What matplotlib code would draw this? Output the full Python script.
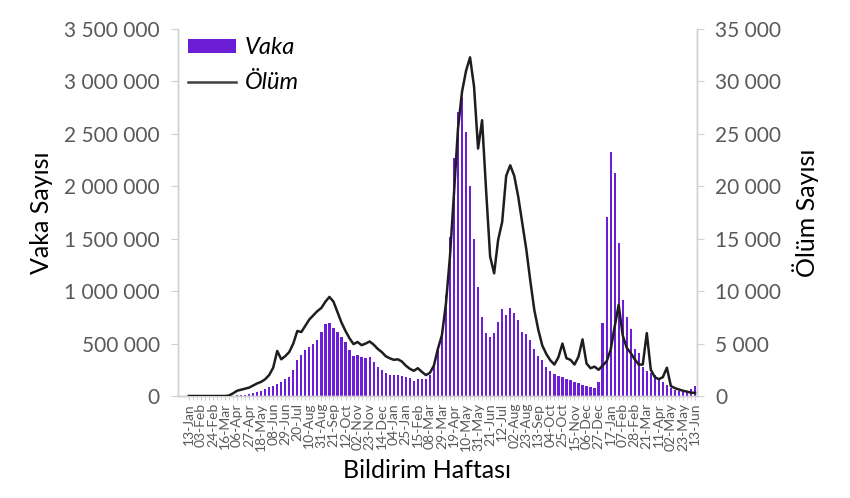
import matplotlib
matplotlib.use("Agg")
import matplotlib.pyplot as plt
import numpy as np
from matplotlib.ticker import FuncFormatter
from matplotlib.patches import Patch
from matplotlib.lines import Line2D

plt.rcParams['font.family'] = ['Lato', 'DejaVu Sans']

# Weekly cases (thousands), weeks starting 13-Jan-2020 through 13-Jun-2022
cases_k = [0, 0, 0, 0, 0, 0, 0, 0, 0,
           0.5, 2, 4, 7, 10, 13, 18,
           26, 35, 48, 64, 83, 99, 114, 137, 162, 184,
           250, 340, 391, 435, 465, 496, 534, 614, 690, 695,
           645, 607, 566, 518, 439, 381, 391, 375, 359, 369,
           321, 280, 248, 222, 203, 203, 203, 194, 184, 168,
           146, 159, 159, 165, 200, 280, 435, 600, 963, 1520,
           2270, 2710, 2850, 2520, 2000, 1500, 1040, 756, 598, 566,
           604, 709, 826, 772, 840, 794, 725, 613, 595, 537,
           445, 381, 340, 276, 240, 213, 195, 178, 159, 153,
           137, 124, 105, 95, 83, 73, 137, 699, 1710, 2330,
           2130, 1460, 915, 756, 636, 445, 407, 280, 238, 222,
           200, 169, 137, 105, 73, 57, 51, 41, 41, 64, 95]

# Weekly deaths
deaths = [0, 0, 0, 0, 0, 0, 0, 0, 0, 0,
          50, 250, 500, 600, 700, 800, 1000, 1200, 1350, 1600,
          2000, 2700, 4300, 3500, 3800, 4200, 5000, 6200, 6100, 6700,
          7300, 7700, 8100, 8400, 9000, 9450, 9000, 8000, 7000, 6200,
          5500, 4950, 5150, 4850, 5000, 5200, 4900, 4500, 4200, 3800,
          3600, 3450, 3500, 3300, 2900, 2600, 2400, 2650, 2300, 2000,
          2200, 2900, 4500, 5800, 8800, 13300, 19300, 25500, 29000, 31000,
          32300, 29500, 23600, 26300, 19600, 13300, 11700, 14900, 16600, 21000,
          22000, 21000, 19000, 16500, 14000, 11000, 8200, 6300, 4800, 4000,
          3400, 3000, 3700, 5000, 3600, 3450, 3000, 3750, 5400, 3100,
          2650, 2800, 2500, 2900, 3300, 4400, 6600, 8700, 5800, 4600,
          4100, 3500, 3000, 3000, 6000, 2500, 1800, 1600, 1800, 2700,
          950, 750, 620, 500, 420, 320, 300]

tick_labels = ['13-Jan', '03-Feb', '24-Feb', '16-Mar', '06-Apr', '27-Apr', '18-May',
               '08-Jun', '29-Jun', '20-Jul', '10-Aug', '31-Aug', '21-Sep', '12-Oct',
               '02-Nov', '23-Nov', '14-Dec', '04-Jan', '25-Jan', '15-Feb', '08-Mar',
               '29-Mar', '19-Apr', '10-May', '31-May', '21-Jun', '12-Jul', '02-Aug',
               '23-Aug', '13-Sep', '04-Oct', '25-Oct', '15-Nov', '06-Dec', '27-Dec',
               '17-Jan', '07-Feb', '28-Feb', '21-Mar', '11-Apr', '02-May', '23-May',
               '13-Jun']

cases = np.array(cases_k) * 1000
deaths = np.array(deaths)
n = len(cases)
x = np.arange(n)

W, H = 850, 498
fig = plt.figure(figsize=(W / 100, H / 100), dpi=100)
L, R, B, T = 178, 697, 396, 29
ax = fig.add_axes([L / W, 1 - B / H, (R - L) / W, (B - T) / H])
ax2 = ax.twinx()

bar_color = '#6c1ed6'
line_color = '#1e1e1e'
grey = '#595959'
spine_grey = '#d0d0d0'

ax.bar(x, cases, width=0.55, color=bar_color, linewidth=0, zorder=2)
ax2.plot(x, deaths, color=line_color, lw=1.8, zorder=3)

ax.set_xlim(-2.7, n - 0.5)
ax.set_ylim(0, 3500000)
ax2.set_ylim(0, 35000)

fmt = FuncFormatter(lambda v, p: f"{int(round(v)):,}".replace(",", " "))
ax.yaxis.set_major_formatter(fmt)
ax2.yaxis.set_major_formatter(fmt)
ax.set_yticks(np.arange(0, 3500001, 500000))
ax2.set_yticks(np.arange(0, 35001, 5000))

ax.set_xticks(x[::3])
ax.set_xticklabels(tick_labels, rotation=90, fontsize=10, color=grey)
ax.set_xticks(x, minor=True)
ax.tick_params(axis='x', which='both', length=3, color=spine_grey, pad=2)

ax.tick_params(axis='y', length=5, color=spine_grey, labelsize=15, labelcolor=grey, pad=8)
ax2.tick_params(axis='y', length=5, color=spine_grey, labelsize=15, labelcolor=grey, pad=8)

for a in (ax, ax2):
    a.spines['top'].set_visible(False)
    for s in ('left', 'right', 'bottom'):
        a.spines[s].set_color(spine_grey)
        a.spines[s].set_linewidth(1.0)

ax.set_ylabel('Vaka Sayısı', fontsize=18, color='black', labelpad=8)
ax2.set_ylabel('Ölüm Sayısı', fontsize=18, color='black', labelpad=8, rotation=90)
ax.set_xlabel('Bildirim Haftası', fontsize=18, color='black')
ax.xaxis.set_label_coords((427 - L) / (R - L), -(459 - B) / (B - T))

handles = [Patch(facecolor=bar_color, edgecolor='none'),
           Line2D([0], [0], color='#404040', lw=1.8)]
leg = ax2.legend(handles, ['Vaka', 'Ölüm'], loc='upper left',
                 bbox_to_anchor=(-0.012, 1.022), frameon=False,
                 prop={'style': 'italic', 'size': 17},
                 handlelength=2.0, handleheight=0.5, labelspacing=0.58,
                 handletextpad=0.4, borderaxespad=0.3)

fig.savefig('out.png', dpi=100)
